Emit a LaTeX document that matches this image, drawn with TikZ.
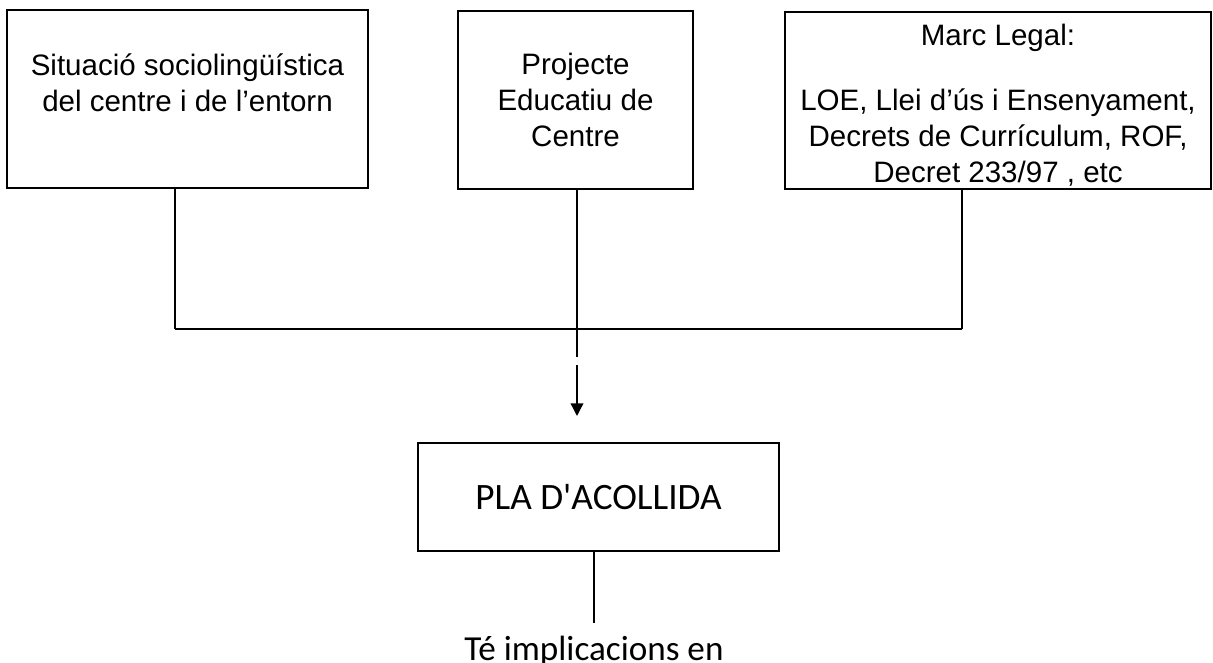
\documentclass[tikz,border=0pt]{standalone}
\usepackage{fontspec}
\setmainfont{Liberation Sans}
\newfontfamily\calibri{Carlito}
\usetikzlibrary{calc}
\usetikzlibrary{positioning}
\usetikzlibrary{arrows.meta}

\tikzset{
  box/.style={draw, line width=1pt, inner sep=0pt, align=center, font=\fontsize{21}{25.6}\selectfont},
  boxtext/.style={align=center, inner sep=0pt, font=\fontsize{21}{25.6}\selectfont},
  link/.style={line width=1pt},
}

\begin{document}
\begin{tikzpicture}
\useasboundingbox (0,0) rectangle (30.325,16.575);

% the three sources
\node[box, minimum width=9.025cm, minimum height=4.45cm] (situacio) at (4.6875,14.1) {};
\node[boxtext] (situaciotext) at (4.6875,14.5) {Situació sociolingüística\\del centre i de l’entorn};
\node[box, minimum width=5.875cm, minimum height=4.45cm] (projecte) at (14.3875,14.075) {Projecte\\Educatiu de\\Centre};
\node[box, minimum width=10.65cm, minimum height=4.425cm] (marc) at (24.95,14.0625) {};
\node[boxtext] (marctext) at (24.95,13.95) {Marc Legal:\\[0.725cm]LOE, Llei d’ús i Ensenyament,\\Decrets de Currículum, ROF,\\Decret 233/97 , etc};

\coordinate (j1) at (4.375,8.35);
\coordinate (j2) at (14.425,8.35);
\coordinate (j3) at (24.05,8.35);
\coordinate (gap) at (14.425,7.45);
\coordinate (tip) at (14.425,6.175);

\draw[link] (situacio.south -| j1) -- (j1);
\draw[link] (projecte.south -| j2) -- ($(gap)+(0,0.2)$);
\draw[link] (marc.south -| j3) -- (j3);
\draw[line width=1.4pt] (j1) -- (j3);
\draw[link, -{Triangle[width=9pt,length=9pt]}] (gap) -- (tip);

% the plan
\node[draw, line width=0.8pt, minimum width=9.025cm, minimum height=2.7cm, font=\calibri\fontsize{26.5}{31}\selectfont] (pla) at (14.9625,4.15) {PLA D'ACOLLIDA};

\coordinate (implend) at (14.85,1.0);
\draw[line width=0.8pt] (pla.south -| implend) -- (implend);
\node[anchor=base, inner sep=0pt, font=\calibri\fontsize{25}{30}\selectfont] (impl) at (14.85,0.05) {Té implicacions en};

\end{tikzpicture}
\end{document}
